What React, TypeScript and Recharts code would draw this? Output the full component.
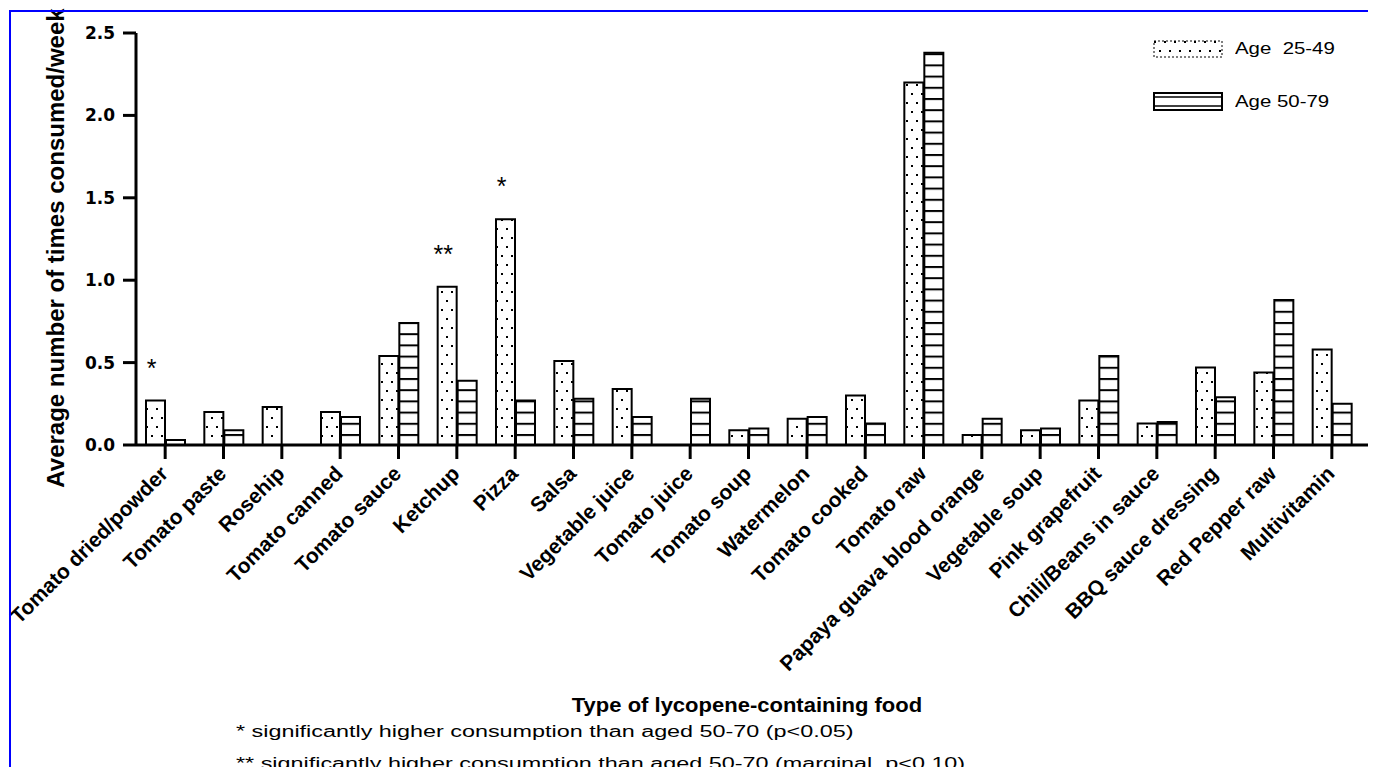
import { BarChart, Bar, XAxis, YAxis, LabelList } from 'recharts';

// food categories and average weekly consumption per age group
const foods = [
  'Tomato dried/powder', 'Tomato paste', 'Rosehip', 'Tomato canned', 'Tomato sauce',
  'Ketchup', 'Pizza', 'Salsa', 'Vegetable juice', 'Tomato juice', 'Tomato soup',
  'Watermelon', 'Tomato cooked', 'Tomato raw', 'Papaya guava blood orange',
  'Vegetable soup', 'Pink grapefruit', 'Chili/Beans in sauce', 'BBQ sauce dressing',
  'Red Pepper raw', 'Multivitamin',
];
const age25to49 = [0.27, 0.2, 0.23, 0.2, 0.54, 0.96, 1.37, 0.51, 0.34, 0, 0.09, 0.16, 0.3, 2.2, 0.06, 0.09, 0.27, 0.13, 0.47, 0.44, 0.58];
const age50to79 = [0.03, 0.09, 0, 0.17, 0.74, 0.39, 0.27, 0.28, 0.17, 0.28, 0.1, 0.17, 0.13, 2.38, 0.16, 0.1, 0.54, 0.14, 0.29, 0.88, 0.25];
const significance = ['*', '', '', '', '', '**', '*', '', '', '', '', '', '', '', '', '', '', '', '', '', ''];
const seriesNames = ['Age\u00a0 25-49', 'Age 50-79'];
const yTicks = [0, 0.5, 1, 1.5, 2, 2.5];
const footnotes = [
  '* significantly higher consumption than aged 50-70 (p<0.05)',
  '** significantly higher consumption than aged 50-70 (marginal, p<0.10)',
];

const data = foods.map((food, i) => ({
  food,
  young: age25to49[i],
  old: age50to79[i],
  sig: significance[i],
}));

const ARIAL = '"Liberation Sans", Arial, sans-serif';

const FoodTick = ({ x, y, payload }: any) => {
  const ax = x + 4;
  const ay = y + 16;
  return (
    <text
      x={ax}
      y={ay}
      transform={`rotate(-45, ${ax}, ${ay})`}
      textAnchor="end"
      fontSize={21}
      fontWeight="bold"
      fontFamily={ARIAL}
      fill="#000"
    >
      {payload.value}
    </text>
  );
};

const SigLabel = ({ x, y, width, value }: any) => {
  if (!value) return null;
  return (
    <text x={x + width / 2 - 4} y={y - 24} textAnchor="middle" fontSize={25} fontFamily={ARIAL} fill="#000">
      {value}
    </text>
  );
};

const AgeLegend = () => (
  <div style={{ position: 'absolute', left: 1153, top: 34, fontFamily: ARIAL, fontSize: 17, color: '#000' }}>
    {seriesNames.map((name, i) => (
      <div key={name} style={{ display: 'flex', alignItems: 'center', height: 30, marginBottom: i === 0 ? 23 : 0 }}>
        <svg width={72} height={22} style={{ marginRight: 10 }}>
          {i === 0 ? (
            <rect x={1} y={3} width={68} height={16} fill="url(#dots)" stroke="#000" strokeWidth={1} strokeDasharray="2 2" />
          ) : (
            <g>
              <rect x={1} y={2} width={68} height={17} fill="#fff" stroke="#000" strokeWidth={2} />
              <line x1={1} x2={69} y1={6} y2={6} stroke="#000" strokeWidth={1.5} />
              <line x1={1} x2={69} y1={15} y2={15} stroke="#000" strokeWidth={1.5} />
            </g>
          )}
        </svg>
        <span style={{ whiteSpace: 'pre', display: 'inline-block', transform: 'scaleX(1.2)', transformOrigin: 'left center' }}>
          {name}
        </span>
      </div>
    ))}
  </div>
);

export default function App() {
  return (
    <div style={{ position: 'relative', width: 1376, height: 775, margin: -8, background: '#fff', overflow: 'hidden' }}>
      <BarChart
        width={1376}
        height={775}
        data={data}
        margin={{ top: 33, right: 1, bottom: 0, left: 0 }}
        barSize={19}
        barGap={1}
        style={{ position: 'absolute', left: 0, top: 0 }}
      >
        <defs>
          <pattern id="dots" patternUnits="userSpaceOnUse" width="10" height="18" x="0" y="0">
            <rect width="10" height="18" fill="#fff" />
            <rect x="1" y="3" width="2" height="2" fill="#000" />
            <rect x="6" y="12" width="2" height="2" fill="#000" />
          </pattern>
          <pattern id="hlines" patternUnits="userSpaceOnUse" width="20" height="11.2" x="0" y="434">
            <rect width="20" height="11.2" fill="#fff" />
            <rect x="0" y="0" width="20" height="2" fill="#000" />
          </pattern>
        </defs>
        <XAxis
          dataKey="food"
          interval={0}
          height={330}
          tickSize={14}
          tickMargin={0}
          padding={{ left: 0, right: 14 }}
          axisLine={{ stroke: '#000', strokeWidth: 3 }}
          tickLine={{ stroke: '#000', strokeWidth: 3 }}
          tick={<FoodTick />}
        />
        <YAxis
          width={136}
          domain={[0, 2.5]}
          ticks={yTicks}
          tickFormatter={(v: number) => v.toFixed(1)}
          tickSize={13}
          tickMargin={8}
          axisLine={{ stroke: '#000', strokeWidth: 3 }}
          tickLine={{ stroke: '#000', strokeWidth: 3 }}
          tick={{ fontSize: 17, fontWeight: 'bold', fill: '#000', fontFamily: '"DejaVu Sans", sans-serif' }}
        />
        <Bar dataKey="young" name={seriesNames[0]} fill="url(#dots)" stroke="#000" strokeWidth={2} isAnimationActive={false}>
          <LabelList dataKey="sig" content={<SigLabel />} />
        </Bar>
        <Bar dataKey="old" name={seriesNames[1]} fill="url(#hlines)" stroke="#000" strokeWidth={2} isAnimationActive={false} />
      </BarChart>

      <AgeLegend />
      <div
        style={{
          position: 'absolute', left: 56, top: 248, transform: 'translate(-50%, -50%) rotate(-90deg)',
          whiteSpace: 'nowrap', fontFamily: ARIAL, fontWeight: 'bold', fontSize: 24, lineHeight: 1, color: '#000',
        }}
      >
        Average number of times consumed/week
      </div>
      <div
        style={{
          position: 'absolute', left: 747, top: 695, transform: 'translateX(-50%) scaleX(1.1)', whiteSpace: 'nowrap',
          fontFamily: ARIAL, fontWeight: 'bold', fontSize: 20, lineHeight: 1, color: '#000',
        }}
      >
        Type of lycopene-containing food
      </div>
      {footnotes.map((note, i) => (
        <div
          key={note}
          style={{
            position: 'absolute', left: 236, top: 724 + i * 32, whiteSpace: 'nowrap', fontFamily: ARIAL,
            fontSize: 16, lineHeight: 1, color: '#000', transform: 'scaleX(1.46)', transformOrigin: 'left top',
          }}
        >
          {note}
        </div>
      ))}
      <div
        style={{
          position: 'absolute', left: 9, top: 10, width: 1364, height: 764, border: '2px solid #0000ff',
          boxSizing: 'border-box', pointerEvents: 'none',
        }}
      />
    </div>
  );
}
